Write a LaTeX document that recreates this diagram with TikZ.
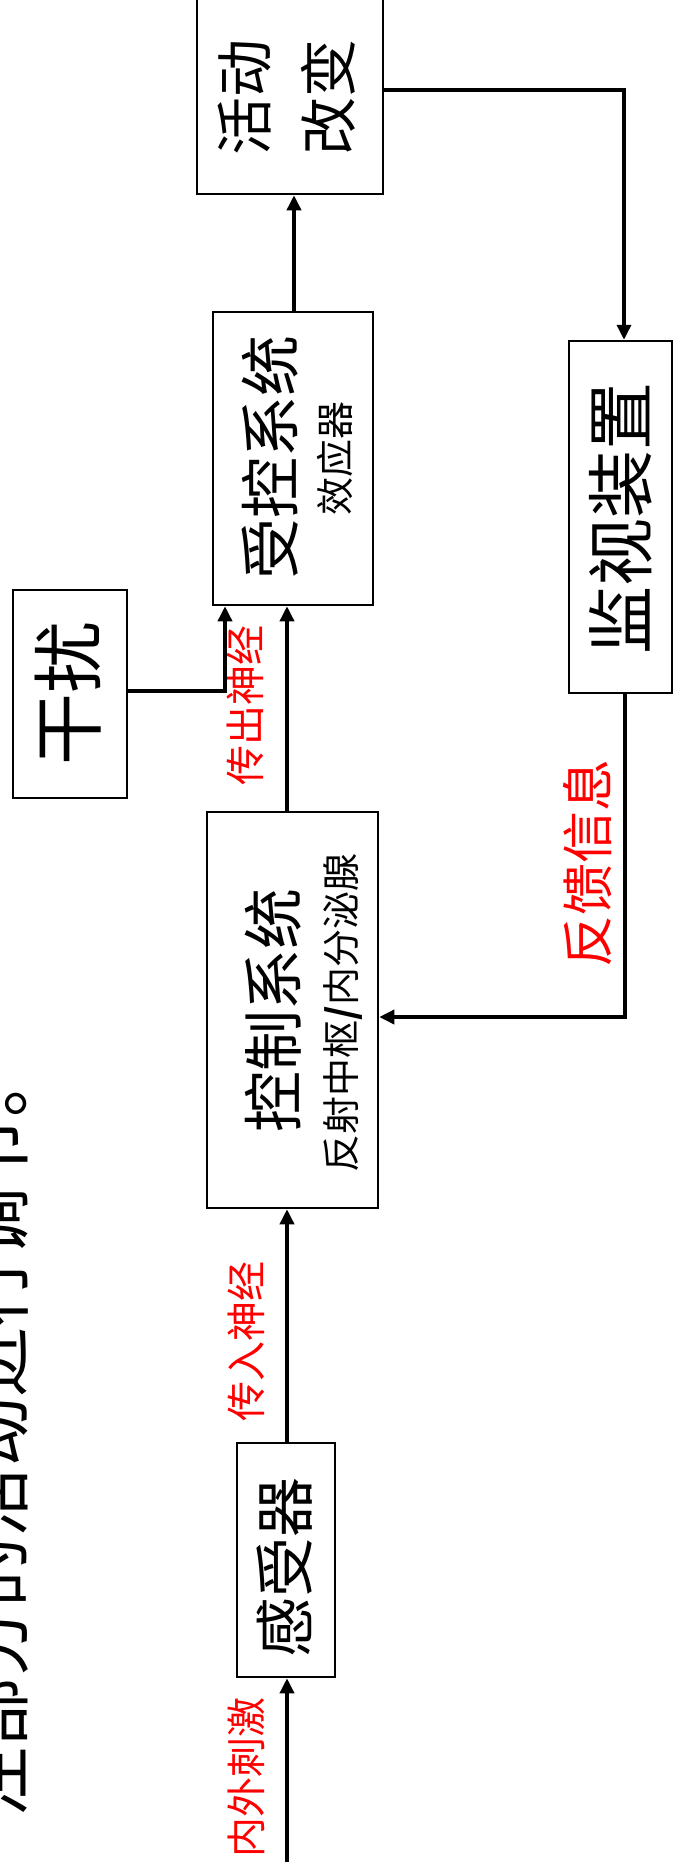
\documentclass[tikz,border=0pt]{standalone}
\usepackage{fontspec}
\newfontfamily\cjk{Noto Sans CJK SC}
\usetikzlibrary{arrows.meta}
\begin{document}
\begin{tikzpicture}[x=1pt,y=-1pt,
  frame/.style={draw=black, line width=2.5pt, inner sep=0pt},
  lbl/.style={rotate=90, inner sep=0pt, font=\cjk, text=black},
  redlbl/.style={lbl, text=red},
  conn/.style={line width=3.5pt},
  arr/.style={conn, -{Triangle[length=15pt,width=14pt]}}]
\useasboundingbox (0,0) rectangle (674,1874);

% frames
\node[frame, minimum width=186pt, minimum height=198pt] (act) at (290,95) {};
\node[frame, minimum width=103pt, minimum height=352pt] (mon) at (620.5,517) {};
\node[frame, minimum width=160pt, minimum height=293pt] (eff) at (293,458.5) {};
\node[frame, minimum width=171pt, minimum height=396pt] (ctl) at (292.5,1010) {};
\node[frame, minimum width=114pt, minimum height=208pt] (dist) at (70,694) {};
\node[frame, minimum width=98pt, minimum height=234pt] (rec) at (286,1560) {};

% texts
\node[lbl] (tact1) at (245,97) {\fontsize{58}{60}\selectfont 活动};
\node[lbl] (tact2) at (328,97) {\fontsize{58}{60}\selectfont 改变};
\node[lbl] (tmon) at (621,518) {\fontsize{68}{70}\selectfont 监视装置};
\node[lbl] (teff1) at (270,457) {\fontsize{61}{63}\selectfont 受控系统};
\node[lbl] (teff2) at (335,458) {\fontsize{38}{40}\selectfont 效应器};
\node[lbl] (tctl1) at (273,1010) {\fontsize{61}{63}\selectfont 控制系统};
\node[lbl] (tctl2) at (343,1013) {\fontsize{38}{40}\selectfont 反射中枢\textbf{/}内分泌腺};
\node[lbl] (tdist) at (68,693) {\fontsize{72}{74}\selectfont 干扰};
\node[lbl] (trec) at (285,1567) {\fontsize{60}{62}\selectfont 感受器};
\node[redlbl] (lfb) at (588,863) {\fontsize{52}{54}\selectfont 反馈信息};
\node[redlbl] (lout) at (245,705) {\fontsize{40}{42}\selectfont 传出神经};
\node[redlbl] (lin) at (246,1341) {\fontsize{40}{42}\selectfont 传入神经};
\node[redlbl] (lstim) at (246,1777) {\fontsize{40}{42}\selectfont 内外刺激};
\node[lbl] (title) at (-4,1432) {\fontsize{70}{72}\selectfont 注部分的活动进行调节。};

% coordinates
\coordinate (c1) at (624,90);
\coordinate (c2) at (625,1017);
\coordinate (c3) at (225,691);
\coordinate (colA) at (287,0);
\coordinate (colB) at (294,0);
\coordinate (in) at (287,1862);

% connectors
\draw[arr] (eff.north -| colB) -- (act.south -| colB);
\draw[arr] (act.east |- c1) -- (c1) -- (mon.north -| c1);
\draw[arr] (mon.south -| c2) -- (c2) -- (ctl.east |- c2);
\draw[arr] (ctl.north -| colA) -- (eff.south -| colA);
\draw[arr] (dist.east |- c3) -- (c3) -- (eff.south -| c3);
\draw[arr] (rec.north -| colA) -- (ctl.south -| colA);
\draw[arr] (in) -- (rec.south -| in);
\end{tikzpicture}
\end{document}
